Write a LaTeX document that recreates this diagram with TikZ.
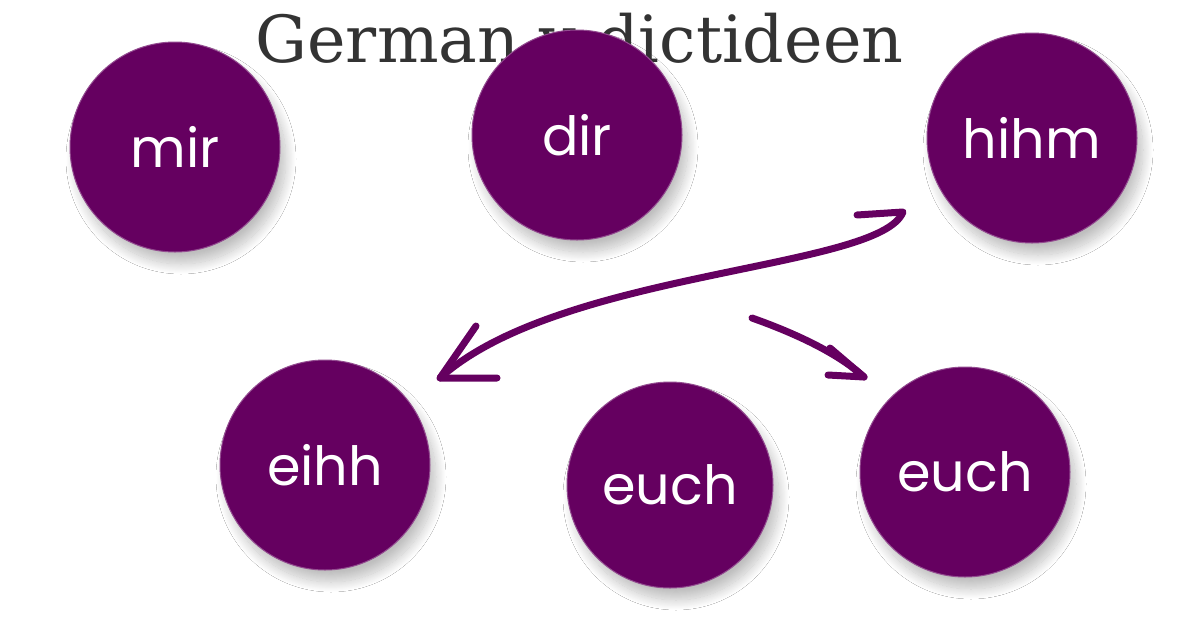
\documentclass[tikz,border=0pt]{standalone}
\usepackage{fontspec}
\setmainfont{DejaVu Serif}
\newfontfamily\lab{Poppins}
\usetikzlibrary{shadows.blur}
\definecolor{plum}{HTML}{650060}
\begin{document}
\begin{tikzpicture}[x=1pt,y=-1pt,
  bub/.style={circle,fill=plum,draw=plum!70!white,line width=1pt,minimum size=210pt,inner sep=0pt,text=white,font=\lab\fontsize{54}{54}\selectfont,blur shadow={shadow xshift=6pt,shadow yshift=-12pt,shadow blur radius=10pt,shadow blur steps=20,shadow opacity=25,shadow blur extra rounding=0pt}},
  arr/.style={draw=plum,line width=7pt,line cap=round,line join=round}]
\useasboundingbox (0,0) rectangle (1200,630);
\fill[white] (0,0) rectangle (1200,630);
\node[anchor=base west,text=black!80,font=\fontsize{65}{65}\selectfont] (title) at (252,62) {German v dictideen};
\node[bub] (mir) at (175,147) {mir};
\node[bub] (dir) at (577,135) {dir};
\node[bub] (hihm) at (1032,138) {hihm};
\node[bub] (eihh) at (325,465) {eihh};
\node[bub,minimum size=206pt] (euch1) at (670,485) {euch};
\node[bub] (euch2) at (965,472) {euch};
\coordinate (a0) at (857,215);
\coordinate (a1) at (903,212);
\coordinate (a2) at (440,378);
\coordinate (b0) at (752,318);
\coordinate (b1) at (864,377);
\draw[arr] (a0) -- (a1) .. controls (880,270) and (560,270) .. (a2);
\draw[arr] (476,326) -- (a2) -- (497,378);
\draw[arr] (b0) .. controls (800,335) and (840,355) .. (b1);
\draw[arr] (830,348) -- (b1) -- (828,375);
\end{tikzpicture}
\end{document}
